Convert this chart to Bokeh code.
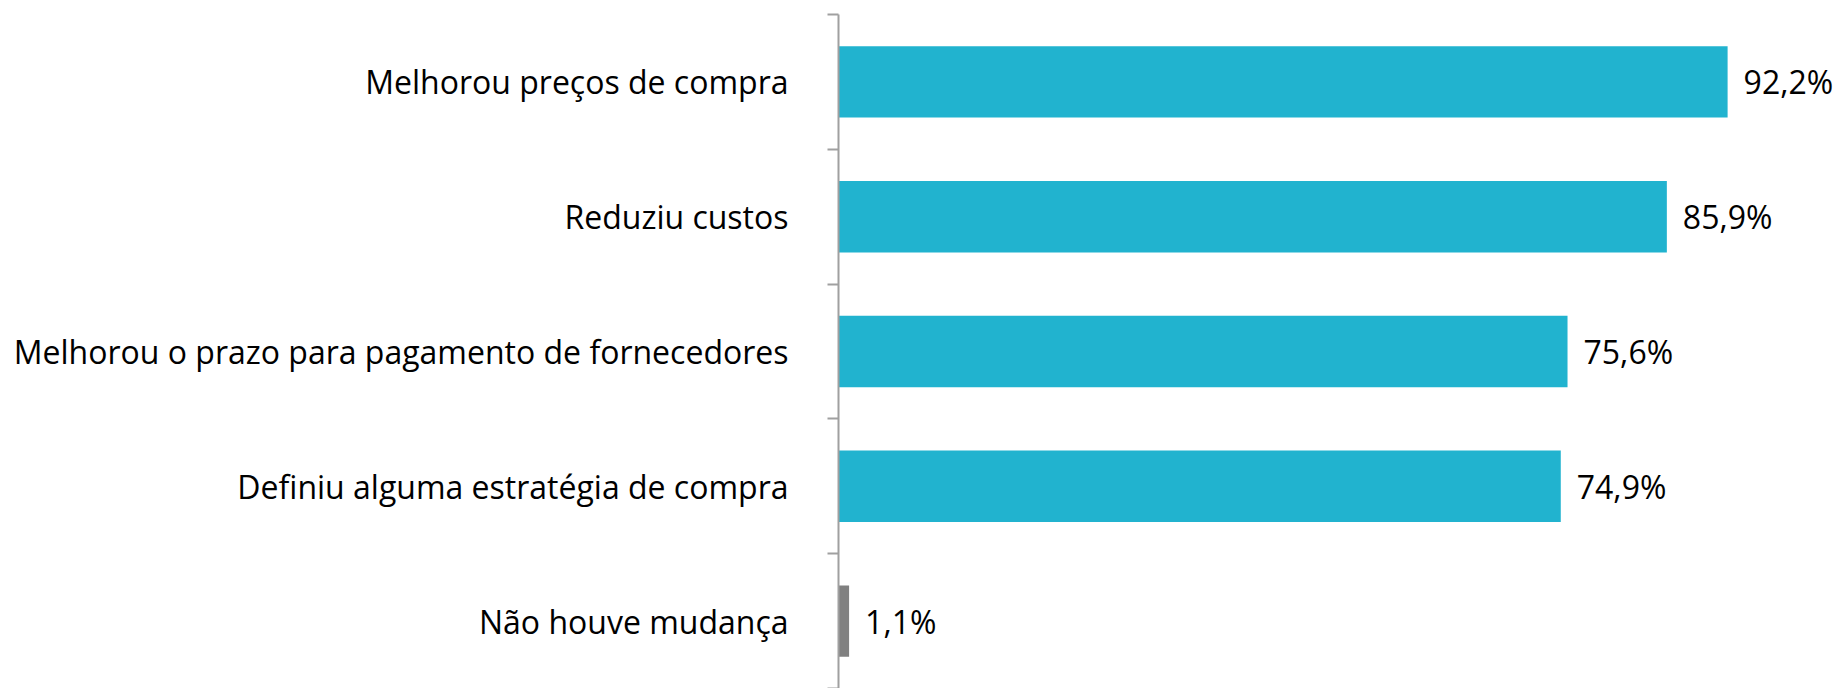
from bokeh.plotting import figure
from bokeh.models import Range1d, FixedTicker, ColumnDataSource
from bokeh.embed import file_html
from bokeh.resources import INLINE
from bokeh.core.properties import value

categories = [
    "Melhorou preços de compra",
    "Reduziu custos",
    "Melhorou o prazo para pagamento de fornecedores",
    "Definiu alguma estratégia de compra",
    "Não houve mudança",
]
values = [92.2, 85.9, 75.6, 74.9, 1.1]
labels = ["92,2%", "85,9%", "75,6%", "74,9%", "1,1%"]
colors = ["#21B3CF", "#21B3CF", "#21B3CF", "#21B3CF", "#808080"]

n = len(categories)
ypos = [n - i - 0.5 for i in range(n)]

FONT = "Open Sans"
FS = "32px"

p = figure(width=1838, height=688, output_backend="svg", toolbar_location=None,
           x_range=Range1d(0, 103.7), y_range=Range1d(0, n),
           min_border_left=838, min_border_right=0, min_border_top=14, min_border_bottom=0)
p.outline_line_color = None
p.grid.grid_line_color = None
p.xaxis.visible = False

src = ColumnDataSource(dict(y=ypos, v=values, lab=labels, c=colors))
p.hbar(y="y", left=0, right="v", height=0.53, fill_color="c", line_color=None, source=src)
p.text(x="v", y="y", text="lab", source=src, x_offset=16, text_baseline="middle",
       text_align="left", text_font=value(FONT), text_font_size=FS, text_color="#000000")

ya = p.yaxis[0]
ya.ticker = FixedTicker(ticks=ypos, minor_ticks=list(range(n + 1)))
ya.major_label_overrides = {y: c for y, c in zip(ypos, categories)}
ya.major_tick_out = 0
ya.major_tick_in = 0
ya.minor_tick_out = 11
ya.minor_tick_in = 0
ya.minor_tick_line_color = "#A0A0A0"
ya.minor_tick_line_width = 2
ya.axis_line_color = "#A0A0A0"
ya.axis_line_width = 2
ya.major_label_standoff = 39
ya.major_label_text_font = FONT
ya.major_label_text_font_size = FS
ya.major_label_text_color = "#000000"

open("out.html", "w").write(file_html(p, INLINE))
